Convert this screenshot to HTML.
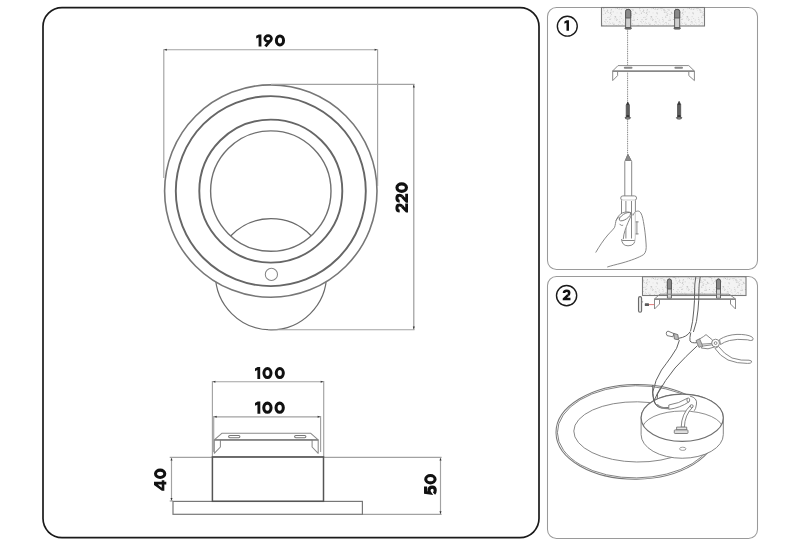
<!DOCTYPE html>
<html><head><meta charset="utf-8">
<style>
html,body{margin:0;padding:0;background:#fff;}
body{width:800px;height:546px;overflow:hidden;}
svg{display:block;}
text{font-family:"Liberation Sans",sans-serif;font-weight:bold;fill:#111;}
</style></head>
<body>
<svg width="800" height="546" viewBox="0 0 800 546">
<defs>
  <clipPath id="hole"><circle cx="270.8" cy="191.1" r="60.2"/></clipPath>
  <pattern id="speck" width="36" height="18" patternUnits="userSpaceOnUse">
    <rect width="36" height="18" fill="#f3f3f3"/><rect x="16.3" y="10.1" width="1.1" height="0.7" fill="#bcbcbc"/><rect x="6.6" y="9.2" width="0.7" height="0.5" fill="#b0b0b0"/><rect x="10.9" y="1.6" width="0.5" height="0.9" fill="#b0b0b0"/><rect x="34.7" y="11.8" width="0.7" height="0.9" fill="#c8c8c8"/><rect x="29.9" y="1.1" width="0.5" height="0.5" fill="#bcbcbc"/><rect x="21.6" y="14.0" width="0.9" height="0.7" fill="#bcbcbc"/><rect x="18.7" y="11.5" width="1.1" height="0.5" fill="#c8c8c8"/><rect x="16.5" y="5.0" width="0.5" height="0.9" fill="#d2d2d2"/><rect x="11.3" y="4.1" width="0.9" height="0.5" fill="#c8c8c8"/><rect x="20.3" y="1.9" width="0.5" height="0.7" fill="#b0b0b0"/><rect x="2.4" y="0.3" width="0.5" height="0.5" fill="#bcbcbc"/><rect x="33.4" y="0.9" width="1.1" height="0.9" fill="#b0b0b0"/><rect x="15.1" y="10.2" width="0.7" height="0.9" fill="#d2d2d2"/><rect x="12.1" y="5.6" width="0.5" height="0.7" fill="#c8c8c8"/><rect x="4.8" y="12.7" width="0.5" height="0.5" fill="#b0b0b0"/><rect x="28.7" y="3.2" width="0.7" height="0.7" fill="#bcbcbc"/><rect x="35.5" y="13.9" width="1.1" height="0.9" fill="#b0b0b0"/><rect x="4.2" y="7.6" width="0.7" height="0.5" fill="#d2d2d2"/><rect x="31.1" y="17.5" width="0.9" height="0.5" fill="#bcbcbc"/><rect x="6.7" y="17.9" width="0.5" height="0.5" fill="#bcbcbc"/><rect x="7.7" y="4.6" width="0.9" height="0.7" fill="#b0b0b0"/><rect x="2.6" y="1.6" width="0.7" height="0.5" fill="#d2d2d2"/><rect x="13.4" y="8.2" width="1.1" height="0.9" fill="#bcbcbc"/><rect x="31.2" y="3.3" width="0.7" height="0.7" fill="#bcbcbc"/><rect x="29.4" y="4.5" width="0.7" height="0.5" fill="#bcbcbc"/><rect x="24.7" y="7.0" width="1.1" height="0.9" fill="#c8c8c8"/><rect x="15.2" y="1.9" width="0.5" height="0.9" fill="#d2d2d2"/><rect x="8.6" y="12.7" width="0.9" height="0.7" fill="#b0b0b0"/><rect x="10.6" y="3.2" width="0.5" height="0.5" fill="#bcbcbc"/><rect x="17.3" y="11.8" width="0.5" height="0.7" fill="#bcbcbc"/><rect x="33.0" y="3.7" width="0.5" height="0.5" fill="#d2d2d2"/><rect x="14.8" y="4.5" width="0.5" height="0.5" fill="#d2d2d2"/><rect x="13.3" y="10.3" width="0.7" height="0.5" fill="#d2d2d2"/><rect x="5.0" y="8.1" width="0.9" height="0.9" fill="#bcbcbc"/><rect x="21.2" y="16.6" width="1.1" height="0.7" fill="#d2d2d2"/><rect x="34.7" y="0.4" width="0.5" height="0.7" fill="#c8c8c8"/><rect x="26.3" y="5.7" width="0.5" height="0.5" fill="#b0b0b0"/><rect x="19.7" y="13.3" width="0.7" height="0.7" fill="#d2d2d2"/><rect x="3.1" y="8.5" width="0.5" height="0.7" fill="#c8c8c8"/><rect x="31.1" y="10.3" width="1.1" height="0.7" fill="#c8c8c8"/><rect x="21.9" y="1.4" width="0.5" height="0.7" fill="#b0b0b0"/><rect x="26.2" y="7.0" width="1.1" height="0.7" fill="#b0b0b0"/><rect x="30.2" y="1.5" width="0.5" height="0.7" fill="#c8c8c8"/><rect x="17.3" y="4.1" width="0.5" height="0.7" fill="#b0b0b0"/><rect x="9.2" y="0.2" width="0.9" height="0.5" fill="#bcbcbc"/><rect x="18.7" y="13.6" width="0.9" height="0.9" fill="#b0b0b0"/><rect x="17.9" y="4.3" width="1.1" height="0.9" fill="#d2d2d2"/><rect x="7.1" y="7.8" width="0.7" height="0.5" fill="#b0b0b0"/><rect x="7.9" y="16.6" width="0.7" height="0.5" fill="#bcbcbc"/><rect x="17.9" y="15.1" width="0.5" height="0.9" fill="#c8c8c8"/><rect x="34.2" y="5.0" width="0.7" height="0.5" fill="#b0b0b0"/><rect x="17.0" y="16.7" width="1.1" height="0.7" fill="#b0b0b0"/><rect x="24.2" y="12.9" width="1.1" height="0.7" fill="#c8c8c8"/><rect x="29.8" y="5.0" width="0.5" height="0.9" fill="#d2d2d2"/><rect x="20.5" y="5.6" width="0.5" height="0.9" fill="#bcbcbc"/><rect x="14.6" y="3.4" width="0.9" height="0.5" fill="#bcbcbc"/><rect x="28.7" y="17.7" width="0.5" height="0.7" fill="#c8c8c8"/><rect x="22.7" y="11.8" width="0.9" height="0.5" fill="#bcbcbc"/><rect x="7.2" y="8.6" width="0.7" height="0.9" fill="#c8c8c8"/><rect x="27.2" y="9.6" width="0.5" height="0.5" fill="#bcbcbc"/><rect x="9.8" y="6.2" width="0.7" height="0.7" fill="#bcbcbc"/><rect x="3.1" y="16.8" width="1.1" height="0.5" fill="#b0b0b0"/><rect x="16.3" y="11.3" width="0.5" height="0.7" fill="#d2d2d2"/><rect x="16.7" y="11.7" width="0.7" height="0.5" fill="#c8c8c8"/><rect x="7.7" y="16.2" width="0.5" height="0.7" fill="#d2d2d2"/><rect x="9.4" y="12.9" width="0.5" height="0.7" fill="#c8c8c8"/><rect x="1.3" y="6.2" width="1.1" height="0.7" fill="#b0b0b0"/><rect x="33.1" y="3.9" width="0.5" height="0.7" fill="#c8c8c8"/><rect x="6.2" y="6.0" width="0.7" height="0.7" fill="#bcbcbc"/><rect x="36.0" y="16.2" width="1.1" height="0.7" fill="#c8c8c8"/><rect x="27.3" y="7.9" width="0.9" height="0.9" fill="#bcbcbc"/><rect x="18.8" y="15.2" width="0.9" height="0.7" fill="#b0b0b0"/><rect x="34.4" y="15.7" width="0.7" height="0.7" fill="#bcbcbc"/><rect x="34.9" y="9.4" width="1.1" height="0.5" fill="#b0b0b0"/><rect x="19.3" y="9.1" width="1.1" height="0.5" fill="#c8c8c8"/><rect x="18.6" y="7.2" width="0.5" height="0.7" fill="#c8c8c8"/><rect x="24.9" y="1.2" width="1.1" height="0.7" fill="#b0b0b0"/><rect x="9.7" y="8.5" width="0.7" height="0.7" fill="#b0b0b0"/><rect x="32.4" y="16.8" width="1.1" height="0.9" fill="#d2d2d2"/><rect x="3.9" y="7.6" width="0.5" height="0.7" fill="#bcbcbc"/><rect x="25.3" y="17.6" width="0.5" height="0.5" fill="#bcbcbc"/><rect x="8.2" y="12.4" width="0.9" height="0.9" fill="#d2d2d2"/><rect x="8.8" y="9.0" width="1.1" height="0.9" fill="#c8c8c8"/><rect x="30.7" y="11.2" width="0.7" height="0.9" fill="#b0b0b0"/><rect x="0.8" y="11.4" width="0.7" height="0.9" fill="#bcbcbc"/><rect x="31.1" y="9.6" width="0.7" height="0.9" fill="#bcbcbc"/><rect x="30.6" y="11.0" width="0.7" height="0.5" fill="#d2d2d2"/><rect x="32.5" y="5.7" width="0.9" height="0.5" fill="#bcbcbc"/><rect x="28.0" y="3.5" width="0.5" height="0.5" fill="#bcbcbc"/><rect x="4.8" y="1.6" width="1.1" height="0.5" fill="#b0b0b0"/><rect x="30.0" y="7.6" width="0.7" height="0.5" fill="#b0b0b0"/><rect x="22.6" y="14.4" width="0.5" height="0.5" fill="#d2d2d2"/><rect x="32.8" y="17.4" width="0.5" height="0.9" fill="#d2d2d2"/><rect x="18.1" y="12.3" width="0.7" height="0.5" fill="#b0b0b0"/><rect x="3.8" y="0.7" width="1.1" height="0.5" fill="#bcbcbc"/><rect x="6.6" y="3.7" width="0.7" height="0.7" fill="#c8c8c8"/><rect x="20.9" y="2.4" width="1.1" height="0.5" fill="#c8c8c8"/><rect x="11.8" y="8.4" width="0.9" height="0.7" fill="#bcbcbc"/><rect x="21.6" y="0.2" width="0.5" height="0.5" fill="#bcbcbc"/><rect x="14.7" y="6.5" width="0.9" height="0.7" fill="#bcbcbc"/><rect x="21.8" y="1.7" width="0.5" height="0.7" fill="#c8c8c8"/><rect x="28.9" y="12.7" width="1.1" height="0.9" fill="#bcbcbc"/><rect x="18.2" y="17.7" width="0.9" height="0.7" fill="#c8c8c8"/><rect x="26.8" y="14.0" width="1.1" height="0.5" fill="#d2d2d2"/><rect x="31.7" y="12.5" width="1.1" height="0.5" fill="#b0b0b0"/><rect x="7.4" y="3.3" width="0.9" height="0.7" fill="#b0b0b0"/><rect x="3.6" y="16.0" width="0.5" height="0.5" fill="#d2d2d2"/><rect x="34.0" y="12.0" width="0.9" height="0.5" fill="#b0b0b0"/><rect x="20.5" y="9.6" width="1.1" height="0.9" fill="#b0b0b0"/><rect x="23.1" y="12.6" width="1.1" height="0.9" fill="#c8c8c8"/><rect x="4.1" y="1.9" width="0.7" height="0.7" fill="#b0b0b0"/><rect x="14.5" y="0.9" width="0.7" height="0.9" fill="#b0b0b0"/><rect x="0.4" y="4.7" width="0.9" height="0.7" fill="#b0b0b0"/><rect x="34.8" y="10.2" width="0.5" height="0.9" fill="#b0b0b0"/><rect x="29.1" y="1.4" width="0.5" height="0.7" fill="#bcbcbc"/><rect x="13.9" y="17.5" width="1.1" height="0.9" fill="#c8c8c8"/><rect x="15.5" y="8.9" width="0.9" height="0.9" fill="#b0b0b0"/><rect x="21.5" y="6.6" width="0.9" height="0.7" fill="#d2d2d2"/><rect x="20.2" y="5.1" width="0.9" height="0.5" fill="#c8c8c8"/><rect x="27.8" y="10.5" width="0.7" height="0.7" fill="#b0b0b0"/><rect x="1.9" y="5.7" width="1.1" height="0.5" fill="#d2d2d2"/><rect x="2.6" y="16.3" width="1.1" height="0.9" fill="#b0b0b0"/><rect x="9.0" y="13.6" width="0.5" height="0.9" fill="#c8c8c8"/><rect x="33.7" y="13.0" width="1.1" height="0.5" fill="#bcbcbc"/><rect x="21.7" y="2.1" width="1.1" height="0.7" fill="#c8c8c8"/><rect x="7.3" y="0.9" width="0.7" height="0.5" fill="#d2d2d2"/><rect x="15.9" y="12.0" width="1.1" height="0.9" fill="#d2d2d2"/><rect x="23.0" y="12.3" width="0.9" height="0.9" fill="#bcbcbc"/><rect x="34.3" y="13.2" width="0.7" height="0.7" fill="#c8c8c8"/><rect x="18.1" y="5.6" width="0.9" height="0.7" fill="#d2d2d2"/>
  </pattern>
</defs>

<!-- main box -->
<rect x="43" y="7.6" width="496" height="530" rx="19" fill="none" stroke="#1a1a1a" stroke-width="1.7"/>
<!-- right panels -->
<rect x="547.5" y="7.5" width="210" height="262" rx="9" fill="none" stroke="#9a9a9a" stroke-width="1.05"/>
<rect x="547.5" y="276.5" width="210" height="262" rx="9" fill="none" stroke="#9a9a9a" stroke-width="1.05"/>

<!-- ===== top view ===== -->
<g fill="none" stroke="#6a6a6a">
  <circle cx="271" cy="274.3" r="55.6" stroke-width="1.2"/>
</g>
<circle cx="270.8" cy="191.1" r="106.2" fill="#fff" stroke="#777" stroke-width="1.6"/>
<g fill="none">
  <circle cx="270.8" cy="191.1" r="95" stroke="#666" stroke-width="1.9"/>
  <circle cx="270.8" cy="191.1" r="71.5" stroke="#666" stroke-width="1.9"/>
  <circle cx="270.8" cy="191.1" r="60.2" stroke="#707070" stroke-width="1.4"/>
  <circle cx="271" cy="274.3" r="55.6" stroke="#6a6a6a" stroke-width="1.2" clip-path="url(#hole)"/>
  <circle cx="271.4" cy="274.4" r="6.1" stroke="#858585" stroke-width="1.05"/>
</g>

<!-- dims top view -->
<g stroke="#a2a2a2" stroke-width="1.15" fill="none">
  <line x1="163.8" y1="49.75" x2="377.6" y2="49.75"/>
  <line x1="163.8" y1="49.3" x2="163.8" y2="178"/>
  <line x1="377.6" y1="49.3" x2="377.6" y2="186"/>
  <line x1="271" y1="84.3" x2="414.5" y2="84.3"/>
  <line x1="413.8" y1="84.3" x2="413.8" y2="329.7" stroke="#999"/>
  <line x1="268" y1="329.7" x2="414.5" y2="329.7"/>
</g>
<g fill="#333">
  <path d="M164.2 49.75 l2.6 -1 v2 z"/>
  <path d="M377.2 49.75 l-2.6 -1 v2 z"/>
  <path d="M413.8 84.8 l-1 2.6 h2 z"/>
  <path d="M413.8 329.2 l-1 -2.6 h2 z"/>
</g>
<!-- ===== side view ===== -->
<g stroke="#a2a2a2" stroke-width="1.15" fill="none">
  <line x1="212.4" y1="381.7" x2="323.7" y2="381.7"/>
  <line x1="212.4" y1="381" x2="212.4" y2="457.4"/>
  <line x1="323.7" y1="381" x2="323.7" y2="457.4"/>
  <line x1="213.7" y1="416.85" x2="320.6" y2="416.85"/>
  <line x1="213.7" y1="416" x2="213.7" y2="452"/>
  <line x1="320.6" y1="416" x2="320.6" y2="452"/>
  <line x1="169.7" y1="457.4" x2="441.6" y2="457.4"/>
  <line x1="362.4" y1="514.4" x2="441.6" y2="514.4"/>
  <line x1="171.5" y1="457.4" x2="171.5" y2="501"/>
  <line x1="169.7" y1="501" x2="173" y2="501"/>
  <line x1="440.5" y1="457.4" x2="440.5" y2="514.4"/>
</g>
<g fill="#333">
  <path d="M212.8 381.7 l2.6 -1 v2 z"/><path d="M323.3 381.7 l-2.6 -1 v2 z"/>
  <path d="M214.1 416.85 l2.6 -1 v2 z"/><path d="M320.2 416.85 l-2.6 -1 v2 z"/>
  <path d="M171.5 457.9 l-1 2.6 h2 z"/><path d="M171.5 500.5 l-1 -2.6 h2 z"/>
  <path d="M440.5 457.9 l-1 2.6 h2 z"/><path d="M440.5 513.9 l-1 -2.6 h2 z"/>
</g>
<!-- bracket -->
<g fill="#fff" stroke="#8a8a8a" stroke-width="1.05" stroke-linejoin="round">
  <path d="M221.8 433.3 H310.8 L318.2 439.8 H214.3 Z"/>
  <path d="M214.3 439.8 V453.3 L220.4 447 V439.8"/>
  <path d="M318.2 439.8 V453.3 L312.1 447 V439.8"/>
  <rect x="228.6" y="435.4" width="11.3" height="2.3" rx="1.15" stroke="#777"/>
  <rect x="294.6" y="435.4" width="11.3" height="2.3" rx="1.15" stroke="#777"/>
</g>
<line x1="214.3" y1="439.9" x2="318.2" y2="439.9" stroke="#7a7a7a" stroke-width="1.5"/>
<!-- box + base -->
<rect x="173" y="501.4" width="189.4" height="12.9" fill="none" stroke="#777" stroke-width="1.2"/>
<rect x="212.4" y="456.9" width="111.1" height="44.4" fill="none" stroke="#555" stroke-width="1.5"/>

<!-- ===== panel 1 ===== -->
<circle cx="567.3" cy="26.2" r="9.95" fill="none" stroke="#1a1a1a" stroke-width="1.4"/>
<rect x="601.5" y="7.5" width="103" height="18.5" fill="url(#speck)" stroke="#7a7a7a" stroke-width="1.1"/>


<!-- panel1 details -->
<g id="p1">
  <!-- anchors -->
  <g stroke="#555" stroke-width="0.9">
    <path d="M625.6 28.5 V11.5 Q625.6 9.3 628.1 9.3 Q630.7 9.3 630.7 11.5 V28.5 Z" fill="#cfcfcf"/>
    <path d="M625.6 11.5 Q625.6 9.3 628.1 9.3 Q630.7 9.3 630.7 11.5 V18 H625.6 Z" fill="#8a8a8a"/>
    <rect x="625" y="27.5" width="6.3" height="1.6" rx="0.8" fill="#777"/>
    <path d="M674.6 28.5 V11.5 Q674.6 9.3 677.1 9.3 Q679.7 9.3 679.7 11.5 V28.5 Z" fill="#cfcfcf"/>
    <path d="M674.6 11.5 Q674.6 9.3 677.1 9.3 Q679.7 9.3 679.7 11.5 V18 H674.6 Z" fill="#8a8a8a"/>
    <rect x="674" y="27.5" width="6.3" height="1.6" rx="0.8" fill="#777"/>
  </g>
  <!-- dashed guide -->
  <line x1="627.6" y1="29.5" x2="627.6" y2="154" stroke="#7a7a7a" stroke-width="1" stroke-dasharray="1 0.8"/>
  <!-- bracket -->
  <g fill="#fff" stroke="#8a8a8a" stroke-width="1" stroke-linejoin="round">
    <path d="M618 65.6 H688.8 L694.4 71 H612.6 Z"/>
    <path d="M612.7 71 V80.6 L617.6 75.6 V71"/>
    <path d="M694.4 71 V80.6 L688.8 75.6 V71"/>
  </g>
  <line x1="612.6" y1="71.2" x2="694.4" y2="71.2" stroke="#888" stroke-width="1.6"/>
  <rect x="623.8" y="66.8" width="8.7" height="2" rx="1" fill="#888"/>
  <rect x="674.4" y="66.8" width="8.6" height="2" rx="1" fill="#888"/>
  <!-- screws -->
  <g fill="#3a3a3a" stroke="#2a2a2a" stroke-width="0.6">
    <path d="M626.2 117.5 V105 L627.8 102 L629.4 105 V117.5 Z"/>
    <path d="M625 117.6 Q627.8 116.2 630.6 117.6 Q630.6 119.2 627.8 119.2 Q625 119.2 625 117.6 Z" fill="#999"/>
    <path d="M677.5 117.5 V104.5 L679.1 101.3 L680.7 104.5 V117.5 Z"/>
    <path d="M676.3 117.6 Q679.1 116.2 681.9 117.6 Q681.9 119.2 679.1 119.2 Q676.3 119.2 676.3 117.6 Z" fill="#999"/>
  </g>
  <g stroke="#ccc" stroke-width="0.5">
    <path d="M626.2 106 h3.2 M626.2 108 h3.2 M626.2 110 h3.2 M626.2 112 h3.2 M626.2 114 h3.2"/>
    <path d="M677.5 106 h3.2 M677.5 108 h3.2 M677.5 110 h3.2 M677.5 112 h3.2 M677.5 114 h3.2"/>
  </g>
  <!-- screwdriver -->
  <g fill="#fff" stroke="#7a7a7a" stroke-width="0.9" stroke-linejoin="round">
    <path d="M624.8 195.9 V161.5 L627.9 154.4 L631.7 161.5 V195.9"/>
    <path d="M625.6 160.5 L627.9 154.4 L630.9 160.5 Z" fill="#8a8a8a"/>
    <rect x="620.7" y="195.9" width="15.9" height="4.4" rx="2.2"/>
    <path d="M621.5 200.3 V238 Q621.5 245.8 628 245.8 Q635.4 245.8 635.4 238 V200.3"/>
    <path d="M622.2 240.5 H634.6"/>
    <path d="M625.9 201 V238.5 M631.5 201 V238.5"/>
  </g>
  <!-- hand -->
  <g fill="#fff" stroke="none">
    <path d="M615 228 C615 223 616.5 219 619 216 C621 213.5 624 212 627.5 212 C630 212 632 213.5 631.8 215.5 C630.5 219 628.5 223 626.5 227.5 C625 231 623.8 235 623.3 239 L615 239 Z"/>
    <path d="M633.4 213.4 C635 211 639 210.2 641 213.5 C643 218 645 230 646 245 C646.5 250 645.5 253 642 256 L635.4 256 L635.4 213 Z"/>
  </g>
  <g fill="none" stroke="#7a7a7a" stroke-width="0.9" stroke-linecap="round" stroke-linejoin="round">
    <path d="M595.9 252.2 C599.5 246 603.5 240 607.8 235 C610.5 232 613.2 229.6 614.6 227.3 C615.4 225 615.5 222 616.2 220.2 C617 218.6 618.2 217.8 619.4 217.2"/>
    <path d="M616.2 220.2 C617.5 217 619.5 214.3 622.4 212.9 C625.5 211.7 629.2 211.6 631 212.8 C632.2 213.8 632 215.2 631.4 216.4"/>
    <ellipse cx="625" cy="216.6" rx="6.6" ry="2.7" transform="rotate(-33 625 216.6)"/>
    <path d="M631.9 214.2 C629.3 219.5 626.6 225.5 625 230.5 C624 233.5 623.5 236 623.3 238.8"/>
    <path d="M619.8 224.2 C620.7 225.4 621.8 225.8 622.8 225.3"/>
    <path d="M633.3 215 C634 211.8 637 210.4 639.4 211.4 C641.5 212.8 642.6 217 643.4 221.5 C644.6 228 645.6 236 646.1 244 C646.5 249 646 252.4 643.6 254.6 C639 257.5 631 260.5 622 263 C616 264.6 611 265.8 607.6 266.9"/>
    <path d="M636 221.9 H638.2 M636.9 221.9 V233.9 M636 233.9 H638.2"/>
  </g>
</g>

<g transform="translate(256.20 46.40)"><g transform="translate(0.00 -12.00) scale(0.1200)"><path d="M0 12 L22 0 L43.5 0 L43.5 100 L20 100 L20 25 L0 34 Z" fill="#111"/></g><g transform="translate(7.32 -12.00) scale(0.1200)"><ellipse cx="38.5" cy="34.5" rx="28" ry="24.5" fill="none" stroke="#111" stroke-width="22"/><path d="M60 50 L16 100" stroke="#111" stroke-width="24.5"/></g><g transform="translate(18.72 -12.00) scale(0.1200)"><ellipse cx="42" cy="50" rx="29.8" ry="37.6" fill="none" stroke="#111" stroke-width="25"/></g></g>
<g transform="translate(408.00 212.60) rotate(-90)"><g transform="translate(0.00 -12.60) scale(0.1260)"><path d="M12 34 C12 18 24 12 37 12 C51 12 60 19.5 60 32 C60.5 41 57 47 50 54" fill="none" stroke="#111" stroke-width="24"/><path d="M41 45 L58 62 L39 78 L72 78 L72 100 L0 100 L0 84 Z" fill="#111"/></g><g transform="translate(9.86 -12.60) scale(0.1260)"><path d="M12 34 C12 18 24 12 37 12 C51 12 60 19.5 60 32 C60.5 41 57 47 50 54" fill="none" stroke="#111" stroke-width="24"/><path d="M41 45 L58 62 L39 78 L72 78 L72 100 L0 100 L0 84 Z" fill="#111"/></g><g transform="translate(19.72 -12.60) scale(0.1260)"><ellipse cx="42" cy="50" rx="29.8" ry="37.6" fill="none" stroke="#111" stroke-width="25"/></g></g>
<g transform="translate(255.00 379.00)"><g transform="translate(0.00 -11.90) scale(0.1190)"><path d="M0 12 L22 0 L43.5 0 L43.5 100 L20 100 L20 25 L0 34 Z" fill="#111"/></g><g transform="translate(7.46 -11.90) scale(0.1190)"><ellipse cx="42" cy="50" rx="29.8" ry="37.6" fill="none" stroke="#111" stroke-width="25"/></g><g transform="translate(19.80 -11.90) scale(0.1190)"><ellipse cx="42" cy="50" rx="29.8" ry="37.6" fill="none" stroke="#111" stroke-width="25"/></g></g>
<g transform="translate(255.00 413.80)"><g transform="translate(0.00 -12.20) scale(0.1220)"><path d="M0 12 L22 0 L43.5 0 L43.5 100 L20 100 L20 25 L0 34 Z" fill="#111"/></g><g transform="translate(7.28 -12.20) scale(0.1220)"><ellipse cx="42" cy="50" rx="29.8" ry="37.6" fill="none" stroke="#111" stroke-width="25"/></g><g transform="translate(19.55 -12.20) scale(0.1220)"><ellipse cx="42" cy="50" rx="29.8" ry="37.6" fill="none" stroke="#111" stroke-width="25"/></g></g>
<g transform="translate(166.30 490.80) rotate(-90)"><g transform="translate(0.00 -12.30) scale(0.1230)"><path d="M48 0 L74 0 L74 63 L86 63 L86 84 L74 84 L74 100 L52 100 L52 84 L0 84 L0 64 Z M52 31 L52 63 L25 63 Z" fill="#111" fill-rule="evenodd"/></g><g transform="translate(11.87 -12.30) scale(0.1230)"><ellipse cx="42" cy="50" rx="29.8" ry="37.6" fill="none" stroke="#111" stroke-width="25"/></g></g>
<g transform="translate(436.60 494.80) rotate(-90)"><g transform="translate(0.00 -12.40) scale(0.1240)"><path d="M67 11 L19 11 L15 46 C22 41 29 39 37 39 C54 39 62 51 62 65 C62 80 52 89 36 89 C25 89 16 86 9 79" fill="none" stroke="#111" stroke-width="25" stroke-linejoin="miter"/></g><g transform="translate(10.38 -12.40) scale(0.1240)"><ellipse cx="42" cy="50" rx="29.8" ry="37.6" fill="none" stroke="#111" stroke-width="25"/></g></g>
<g transform="translate(564.40 30.70)"><g transform="translate(0.00 -10.50) scale(0.1050)"><path d="M0 12 L22 0 L43.5 0 L43.5 100 L20 100 L20 25 L0 34 Z" fill="#111"/></g></g>
<g transform="translate(562.70 300.20)"><g transform="translate(0.00 -10.80) scale(0.1080)"><path d="M12 34 C12 18 24 12 37 12 C51 12 60 19.5 60 32 C60.5 41 57 47 50 54" fill="none" stroke="#111" stroke-width="24"/><path d="M41 45 L58 62 L39 78 L72 78 L72 100 L0 100 L0 84 Z" fill="#111"/></g></g>
<!-- ===== panel 2 ===== -->
<circle cx="566.6" cy="295.6" r="10.1" fill="none" stroke="#1a1a1a" stroke-width="1.4"/>
<rect x="642.5" y="276.7" width="103.5" height="18.8" fill="url(#speck)" stroke="#7a7a7a" stroke-width="1.1"/>


<g id="p2">
  <!-- anchors -->
  <g stroke="#555" stroke-width="0.9">
    <path d="M667.4 298.3 V281.2 Q667.4 279 669.4 279 Q671.4 279 671.4 281.2 V298.3 Z" fill="#cfcfcf"/>
    <path d="M667.4 281.2 Q667.4 279 669.4 279 Q671.4 279 671.4 281.2 V289 H667.4 Z" fill="#8a8a8a"/>
    <path d="M716.5 298.3 V281.2 Q716.5 279 718.5 279 Q720.5 279 720.5 281.2 V298.3 Z" fill="#cfcfcf"/>
    <path d="M716.5 281.2 Q716.5 279 718.5 279 Q720.5 279 720.5 281.2 V289 H716.5 Z" fill="#8a8a8a"/>
  </g>
  <!-- bracket -->
  <g fill="none" stroke="#8a8a8a" stroke-width="1" stroke-linejoin="round">
    <path d="M660 294.2 H729 L735.6 299 H654.4 Z"/>
    <path d="M654.5 299 V309 L659.5 304 V299"/>
    <path d="M735.5 299 V309 L730.5 304 V299"/>
  </g>
  <line x1="654.4" y1="299.2" x2="735.6" y2="299.2" stroke="#888" stroke-width="1.5"/>
  <!-- wall screw sideways -->
  <rect x="638.5" y="296.6" width="3.1" height="15.6" rx="1.55" fill="#e4e4e4" stroke="#6a6a6a" stroke-width="1.1"/>
  <path d="M641.6 300.5 L642.6 301.8 L641.6 303" fill="none" stroke="#888" stroke-width="0.8"/>
  <rect x="644.8" y="303.3" width="4.2" height="2.7" rx="0.6" fill="#5a5a5a"/>
  <line x1="649" y1="304.6" x2="654.2" y2="304.6" stroke="#e06a6a" stroke-width="0.9"/>
  <!-- cable from ceiling -->
  <g fill="none" stroke="#626262" stroke-width="1">
    <path d="M695.8 277 Q694.5 284 694.6 291 Q694.8 300 693.8 310 Q693 322 690.6 331"/>
    <path d="M700.2 277 Q698.8 284 698.9 291 Q699 300 698 310 Q697.2 322 693.4 332"/>
    <path d="M690.3 331.5 Q687 337 678.7 338.3"/>
    <path d="M690.8 332.5 Q689.5 338 690 341 Q691.5 343.5 697.5 342.6"/>
    <!-- wires down -->
    <path d="M679.4 340.2 Q678 348 671 357 Q666 364 661.5 370 Q655 380 652.8 392 Q652.8 402 660 407"/>
    <path d="M697.5 345.6 Q686 356 675 368 Q665 380 657.5 394 Q655.5 402 659.5 408"/>
  </g>
  <!-- connector left -->
  <g stroke="#6a6a6a" stroke-width="0.9">
    <path d="M666.3 333.6 Q666.1 331.5 668 331.1 L673.9 333.6 L672.9 336.8 L667 335.6 Z" fill="#fff"/>
    <path d="M673.7 333.4 L677.8 334.6 L678.6 339.8 L674.4 339 Z" fill="#bbb"/>
  </g>
  <!-- pliers -->
  <g fill="#fff" stroke="#7a7a7a" stroke-width="0.9" stroke-linejoin="round">
    <path d="M719.5 339.5 Q727 334.8 737 334.4 Q747 334.2 751.8 336.8 Q754 338.6 752.6 340.2 Q750.5 341 747.5 339.8 Q737 338.6 729.5 340.5 Q724 342 720.5 344.5 Z"/>
    <path d="M718.5 346.5 Q724 354 732 358 Q742 361 749 360.2 Q752.2 360.6 751.6 362.2 Q750.8 363.6 747.5 363.4 Q737 363.6 728 360 Q720 356 715 348.5 Z"/>
    <path d="M712.5 340 L706 334.6 L703.6 336.5 L697.5 340.3 L701 344.2 L712 343.5 Z"/>
    <path d="M712 344.8 L703 346 L701.2 348 L708 348.8 L714.5 347 Z"/>
    <circle cx="715.6" cy="343.1" r="3.9"/>
    <circle cx="715.6" cy="343.1" r="1.4"/>
    <path d="M696 340.6 L699.6 338.8 L702.6 345.8 L699 347.4 Z" fill="#bbb"/>
  </g>
  <!-- disc -->
  <g fill="none" stroke="#777" transform="rotate(-0.7 636.1 431.8)">
    <ellipse cx="636.1" cy="431.8" rx="80.1" ry="47.4" stroke-width="1"/>
    <ellipse cx="636.1" cy="431.8" rx="78.7" ry="46.1" stroke-width="0.9"/>
  </g>
  <ellipse cx="637.1" cy="431.9" rx="63.3" ry="30.1" fill="none" stroke="#7a7a7a" stroke-width="0.9" transform="rotate(0.8 637.1 431.9)"/>
  <!-- canister -->
  <defs><clipPath id="cantop"><ellipse cx="682.2" cy="417.75" rx="41.1" ry="23.65"/></clipPath></defs>
  <path d="M641.1 417.75 V434.6 A41.1 23.65 0 0 0 723.3 434.6 V417.75 A41.1 23.65 0 0 0 641.1 417.75 Z" fill="#fff" stroke="#777" stroke-width="0.9"/>
  <ellipse cx="682.2" cy="417.75" rx="41.1" ry="23.65" fill="#fff" stroke="#6f6f6f" stroke-width="1.15"/>
  <ellipse cx="682.6" cy="429.5" rx="40.5" ry="18.5" fill="none" stroke="#7a7a7a" stroke-width="0.85" clip-path="url(#cantop)"/>
  <ellipse cx="682.75" cy="448.8" rx="3.2" ry="1.6" fill="#fff" stroke="#888" stroke-width="0.8"/>
  <!-- wires over canister -->
  <g fill="none" stroke="#626262" stroke-width="1" stroke-linejoin="round">
    <path d="M652.8 385 Q652 394 653.7 400.6 Q656 407.5 662 408 L668.8 407.4"/>
    <path d="M662.4 385 Q657 393 654.2 400.6 Q655.5 406 661 407.2"/>
    <path d="M657 404.5 Q660 408.5 668.8 408.3" stroke-width="1.8" stroke="#888"/>
  </g>
  <g fill="#fff" stroke="#6f6f6f" stroke-width="0.85" stroke-linejoin="round">
    <path d="M668.8 405 Q679 403.5 687.5 398.2 L689 401.8 Q680 408 668.8 409.3 Z"/>
    <ellipse cx="688.3" cy="400" rx="1.4" ry="2" />
    <path d="M689.9 396 Q697.5 398 696.5 404 Q695.8 409.5 694.2 410.8" fill="none"/>
    <path d="M681.2 427.2 Q681.4 414 690.6 405.3 L692.8 407 Q684.6 415 684.4 427.2 Z"/>
    <ellipse cx="691.7" cy="406.1" rx="1.5" ry="1.4"/>
    <rect x="676.6" y="427.1" width="10.1" height="2.8" fill="#e6e6e6"/>
    <rect x="674.3" y="429.9" width="13.7" height="3.6" rx="0.8" fill="#ddd"/>
  </g>
</g>

</svg>
</body></html>
